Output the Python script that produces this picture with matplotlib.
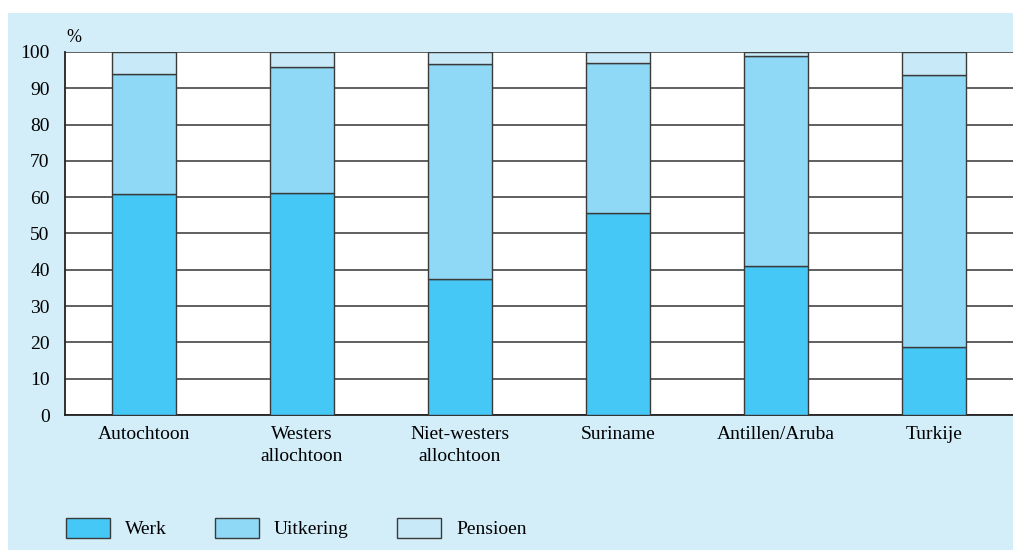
import numpy as np
import matplotlib
matplotlib.use('Agg')
import matplotlib.pyplot as plt
from matplotlib.patches import Rectangle, Patch

groups = ['Autochtoon', 'Westers\nallochtoon', 'Niet-westers\nallochtoon',
          'Suriname', 'Antillen/Aruba', 'Turkije']
werk = [61, 61.2, 37.5, 55.6, 41, 18.7]
uitkering = [33, 34.6, 59.2, 41.3, 58, 75.1]
pensioen = [6, 4.2, 3.3, 3.1, 1, 6.2]

col_werk = '#45c8f5'
col_uitk = '#8fd9f6'
col_pens = '#c8e9f8'
panel = '#d3eef9'
edge = '#3a3a3a'

plt.rcParams['font.family'] = ['Liberation Serif', 'DejaVu Serif']
fs = 14

fig = plt.figure(figsize=(10.13, 5.5), dpi=100)
fig.patch.set_facecolor('white')
fig.add_artist(Rectangle((8 / 1013, 0), 1 - 8 / 1013, 1 - 13 / 550,
                         transform=fig.transFigure, facecolor=panel,
                         edgecolor='none', zorder=0))

ax = fig.add_axes([65 / 1013, 135 / 550, 948 / 1013, 363 / 550])
ax.set_facecolor('white')

x = np.arange(len(groups))
w = 0.405
bottom2 = np.array(werk) + np.array(uitkering)
ax.bar(x, werk, w, color=col_werk, edgecolor=edge, lw=1, zorder=3)
ax.bar(x, uitkering, w, bottom=werk, color=col_uitk, edgecolor=edge, lw=1, zorder=3)
ax.bar(x, pensioen, w, bottom=bottom2, color=col_pens, edgecolor=edge, lw=1, zorder=3)

ax.set_xlim(-0.5, 5.5)
ax.set_ylim(0, 100)
ax.set_yticks(np.arange(0, 101, 10))
ax.yaxis.grid(True, color='#444444', lw=1.2, zorder=1)
ax.set_axisbelow(True)
ax.set_xticks(x)
ax.set_xticklabels(groups, fontsize=fs, linespacing=1.35)
ax.tick_params(axis='y', length=0, pad=11, labelsize=fs)
ax.tick_params(axis='x', length=0, pad=8)
for s in ['top', 'right']:
    ax.spines[s].set_visible(False)
ax.spines['left'].set_color('#222222')
ax.spines['bottom'].set_color('#222222')
ax.spines['left'].set_linewidth(1.3)
ax.spines['bottom'].set_linewidth(1.3)

fig.text(66 / 1013, 1 - 37 / 550, '%', fontsize=13, va='center', ha='left')

handles = [Patch(facecolor=c, edgecolor=edge, lw=1) for c in (col_werk, col_uitk, col_pens)]
fig.legend(handles, ['Werk', 'Uitkering', 'Pensioen'], loc='center left',
           bbox_to_anchor=(66 / 1013, 1 - 528 / 550), ncol=3, frameon=False,
           borderpad=0, borderaxespad=0,
           fontsize=fs, handlelength=2.27, handleheight=1.2,
           handletextpad=0.75, columnspacing=2.5)

fig.savefig('out.png', dpi=100, facecolor=fig.get_facecolor())
